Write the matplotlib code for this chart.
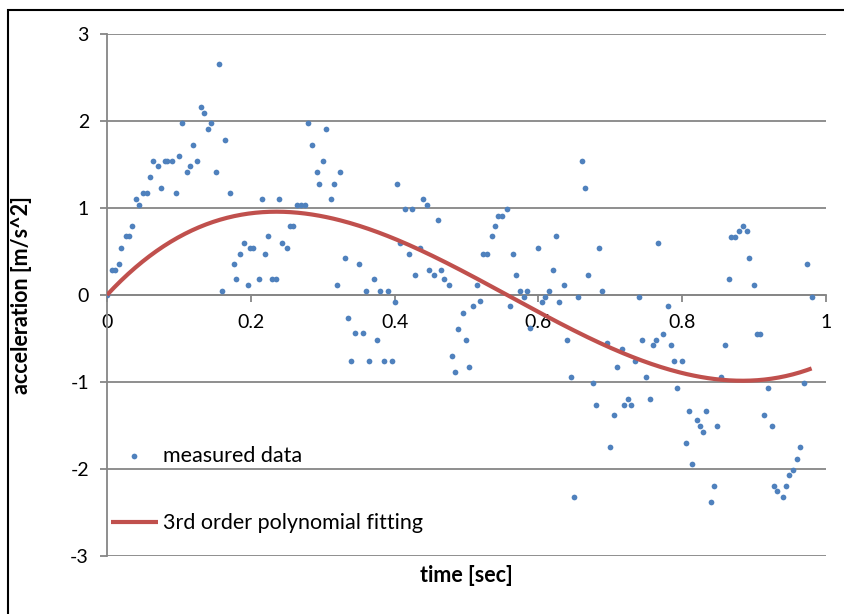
import numpy as np
import matplotlib
matplotlib.use("Agg")
import matplotlib.pyplot as plt
from matplotlib.patches import Rectangle

plt.rcParams['font.family'] = ['Lato', 'DejaVu Sans']
plt.rcParams['axes.unicode_minus'] = False

time_s = [0.000, 0.0065, 0.011, 0.016, 0.0195, 0.026, 0.031, 0.035, 0.040, 0.045,
          0.0505, 0.055, 0.060, 0.064, 0.071, 0.0755, 0.080, 0.084, 0.090, 0.0955,
          0.100, 0.104, 0.111, 0.1155, 0.120, 0.125, 0.131, 0.135, 0.140, 0.1445,
          0.151, 0.156, 0.160, 0.1645, 0.171, 0.176, 0.180, 0.1845, 0.191, 0.1955,
          0.199, 0.2035, 0.211, 0.2155, 0.220, 0.224, 0.229, 0.2345, 0.2395, 0.244,
          0.251, 0.2545, 0.259, 0.2645, 0.2705, 0.275, 0.280, 0.2845, 0.2915, 0.295,
          0.300, 0.3045, 0.311, 0.3155, 0.320, 0.3245, 0.3315, 0.3355, 0.339, 0.345,
          0.351, 0.3555, 0.360, 0.3645, 0.371, 0.3755, 0.380, 0.385, 0.391, 0.396,
          0.400, 0.404, 0.408, 0.415, 0.420, 0.4245, 0.429, 0.4355, 0.440, 0.4445,
          0.4485, 0.455, 0.460, 0.4645, 0.4685, 0.4755, 0.480, 0.4845, 0.4885, 0.4955,
          0.500, 0.504, 0.5085, 0.515, 0.519, 0.5235, 0.528, 0.536, 0.540, 0.544,
          0.549, 0.556, 0.560, 0.564, 0.569, 0.575, 0.580, 0.5845, 0.588, 0.600,
          0.6045, 0.609, 0.615, 0.620, 0.6245, 0.629, 0.6355, 0.640, 0.645, 0.649,
          0.6555, 0.660, 0.6645, 0.6685, 0.6755, 0.6795, 0.6845, 0.689, 0.696, 0.700,
          0.7045, 0.709, 0.716, 0.7195, 0.7245, 0.729, 0.735, 0.740, 0.7445, 0.749,
          0.7555, 0.760, 0.764, 0.767, 0.773, 0.780, 0.784, 0.789, 0.793, 0.800,
          0.805, 0.809, 0.813, 0.820, 0.825, 0.829, 0.8335, 0.840, 0.8445, 0.849,
          0.8535, 0.860, 0.8645, 0.868, 0.874, 0.879, 0.8845, 0.8895, 0.893, 0.900,
          0.904, 0.9085, 0.914, 0.920, 0.925, 0.928, 0.9325, 0.9395, 0.944, 0.949,
          0.9535, 0.960, 0.9645, 0.969, 0.9735, 0.980]

accel = [0.00, 0.29, 0.29, 0.36, 0.54, 0.68, 0.68, 0.79, 1.10, 1.04,
         1.17, 1.17, 1.36, 1.54, 1.48, 1.23, 1.54, 1.54, 1.54, 1.17,
         1.60, 1.98, 1.41, 1.48, 1.72, 1.54, 2.16, 2.09, 1.91, 1.98,
         1.41, 2.66, 0.05, 1.78, 1.17, 0.36, 0.18, 0.47, 0.60, 0.11,
         0.54, 0.54, 0.18, 1.10, 0.47, 0.68, 0.18, 0.18, 1.10, 0.60,
         0.54, 0.79, 0.79, 1.04, 1.04, 1.04, 1.98, 1.72, 1.41, 1.28,
         1.54, 1.91, 1.10, 1.28, 0.11, 1.41, 0.42, -0.26, -0.755, -0.44,
         0.36, -0.44, 0.05, -0.755, 0.18, -0.52, 0.05, -0.755, 0.05, -0.755,
         -0.08, 1.28, 0.60, 0.99, 0.47, 0.99, 0.23, 0.54, 1.10, 1.04,
         0.29, 0.23, 0.86, 0.29, 0.18, 0.11, -0.70, -0.885, -0.39, -0.21,
         -0.52, -0.83, -0.13, 0.11, -0.07, 0.47, 0.47, 0.68, 0.79, 0.91,
         0.91, 0.99, -0.13, 0.47, 0.23, 0.05, -0.02, 0.05, -0.38, 0.54,
         -0.08, -0.02, 0.05, 0.29, 0.68, -0.08, 0.11, -0.52, -0.94, -2.32,
         -0.02, 1.54, 1.23, 0.23, -1.015, -1.26, 0.54, 0.05, -0.555, -1.75,
         -1.38, -0.83, -0.62, -1.26, -1.20, -1.26, -0.76, -0.02, -0.52, -0.94,
         -1.20, -0.575, -0.52, 0.60, -0.445, -0.13, -0.575, -0.76, -1.07, -0.76,
         -1.70, -1.33, -1.94, -1.44, -1.51, -1.57, -1.33, -2.38, -2.20, -1.51,
         -0.94, -0.575, 0.18, 0.67, 0.67, 0.73, 0.79, 0.73, 0.42, 0.11,
         -0.445, -0.445, -1.38, -1.07, -1.51, -2.20, -2.25, -2.32, -2.20, -2.07,
         -2.01, -1.88, -1.75, -1.015, 0.36, -0.02]

xticks = [0, 0.2, 0.4, 0.6, 0.8, 1]
xticklabels = ['0', '0.2', '0.4', '0.6', '0.8', '1']
yticks = [-3, -2, -1, 0, 1, 2, 3]

t = np.array(time_s)
a = np.array(accel)

# 3rd order trendline with intercept set to 0 (curve starts at the origin)
A = np.column_stack([t, t ** 2, t ** 3])
coef, *_ = np.linalg.lstsq(A, a, rcond=None)
tt = np.linspace(t.min(), t.max(), 300)
fit = coef[0] * tt + coef[1] * tt ** 2 + coef[2] * tt ** 3

fig = plt.figure(figsize=(8.45, 6.14), dpi=100)
ax = fig.add_axes([107 / 845, 1 - 556 / 614, 719 / 845, 522 / 614])

gray = '#868686'

ax.scatter(t, a, s=17, color='#4F81BD', linewidths=0, zorder=3, label='measured data')
ax.plot(tt, fit, color='#C0504D', lw=3.0, zorder=4, label='3rd order polynomial fitting',
        solid_capstyle='butt')

ax.set_xlim(0, 1)
ax.set_ylim(-3, 3)
ax.set_xticks(xticks)
ax.set_xticklabels(xticklabels)
ax.set_yticks(yticks)

for s in ['top', 'right']:
    ax.spines[s].set_visible(False)
ax.spines['bottom'].set_position(('data', 0))
ax.spines['bottom'].set_color(gray)
ax.spines['left'].set_color(gray)
ax.spines['bottom'].set_linewidth(1.3)
ax.spines['left'].set_linewidth(1.3)

ax.yaxis.grid(True, color=gray, lw=1.3)
ax.set_axisbelow(True)

ax.tick_params(axis='both', direction='out', length=5, width=1.3, color=gray,
               labelsize=14, labelcolor='black')
ax.tick_params(axis='x', pad=9)
ax.tick_params(axis='y', pad=8)

ax.set_xlabel('time [sec]', fontsize=15.5, fontweight='bold')
ax.xaxis.set_label_coords(0.5, -0.018)
ax.set_ylabel('acceleration [m/s^2]', fontsize=15.5, fontweight='bold')
ax.yaxis.set_label_coords(-0.104, 0.5)

ax.legend(loc='upper left', bbox_to_anchor=(0.005, 0.211), frameon=False,
          fontsize=15.5, scatterpoints=1, handlelength=2.2, handletextpad=0.25,
          labelspacing=2.2, borderpad=0, borderaxespad=0)

fig.patches.append(Rectangle((8 / 845, -0.1), 1.2, 1 - 10 / 614 + 0.1, fill=False,
                             edgecolor='black', lw=1.5, transform=fig.transFigure))

fig.savefig('out.png', dpi=100)
